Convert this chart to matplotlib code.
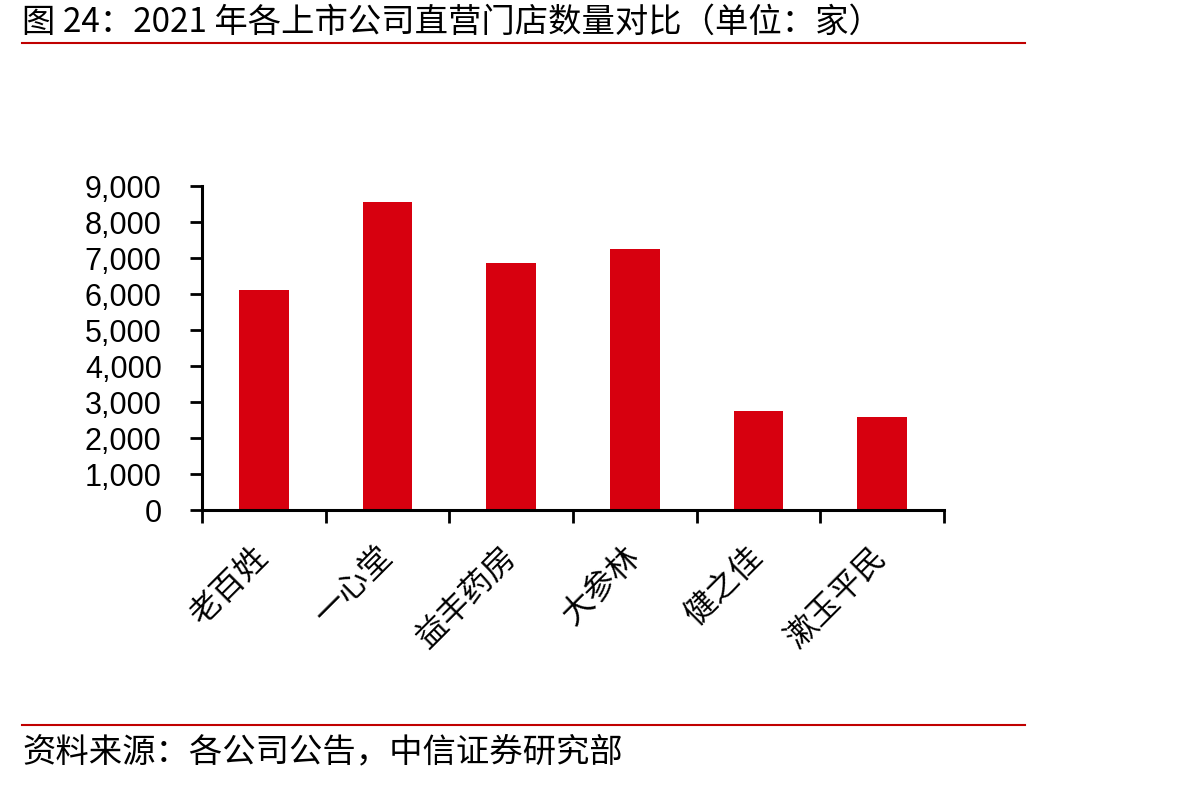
import matplotlib
matplotlib.use('Agg')
import matplotlib.pyplot as plt
from matplotlib.lines import Line2D
from matplotlib.ticker import FuncFormatter, FixedLocator

plt.rcParams['font.family'] = ['Noto Sans CJK SC', 'DejaVu Sans']

# data
companies = ["老百姓", "一心堂", "益丰药房", "大参林", "健之佳", "漱玉平民"]
stores = [6110, 8560, 6860, 7250, 2750, 2590]
y_ticks = [0, 1000, 2000, 3000, 4000, 5000, 6000, 7000, 8000, 9000]

bar_color = '#D7000F'
line_color = '#C00000'

fig = plt.figure(figsize=(12.04, 7.86), dpi=100)
ax = fig.add_axes([202/1204, 1-510/786, (944-202)/1204, (510-186)/786])

x = list(range(len(companies)))
ax.bar(x, stores, width=0.4, color=bar_color)

ax.set_xlim(-0.5, len(companies) - 0.5)
ax.set_ylim(0, 9000)
ax.set_yticks(y_ticks)
ax.yaxis.set_major_formatter(FuncFormatter(lambda v, p: f"{int(v):,}"))
for lab in ax.get_yticklabels():
    lab.set_family(['Liberation Sans', 'DejaVu Sans'])
    lab.set_fontsize(22)

# category labels at centers, tick marks at boundaries
ax.set_xticks(x)
ax.set_xticklabels(companies, rotation=45, ha='right', va='center',
                   rotation_mode='anchor', fontsize=23)
ax.xaxis.set_minor_locator(FixedLocator([i - 0.5 for i in range(len(companies) + 1)]))
ax.tick_params(axis='x', which='major', length=0, pad=30)
ax.tick_params(axis='x', which='minor', length=9, width=2, direction='out')
ax.tick_params(axis='y', which='major', length=9, width=2, direction='out', pad=20)

for s in ['top', 'right']:
    ax.spines[s].set_visible(False)
for s in ['left', 'bottom']:
    ax.spines[s].set_linewidth(2.2)

# title, rules and source
fig.text(22/1204, 1-22/786, "图 24：2021 年各上市公司直营门店数量对比（单位：家）",
         fontsize=24, va='center', ha='left')
fig.add_artist(Line2D([22/1204, 1025/1204], [1-43/786, 1-43/786],
                      color=line_color, lw=1.5))
fig.add_artist(Line2D([22/1204, 1025/1204], [1-725/786, 1-725/786],
                      color=line_color, lw=1.5))
fig.text(22/1204, 1-752/786, "资料来源：各公司公告，中信证券研究部",
         fontsize=24, va='center', ha='left')

fig.savefig("out.png", dpi=100)
